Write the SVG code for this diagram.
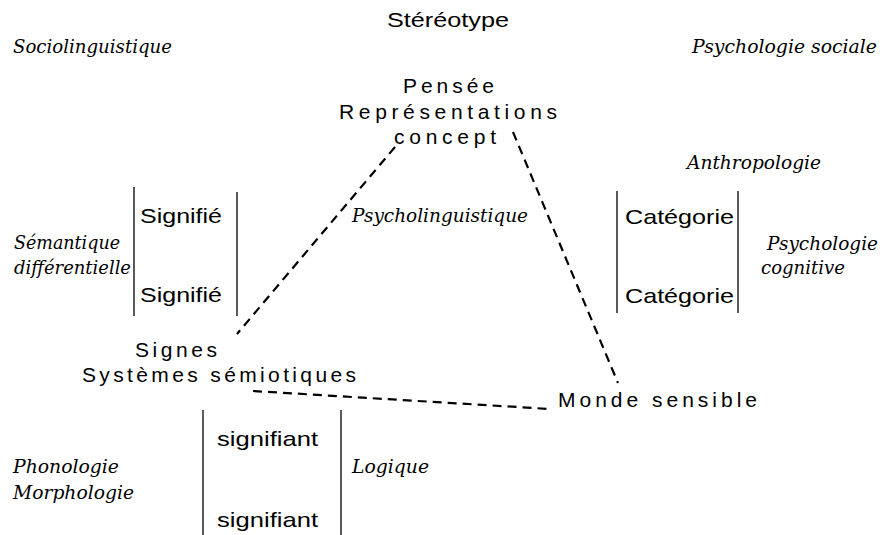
<svg xmlns="http://www.w3.org/2000/svg" width="880" height="535" viewBox="0 0 880 535">
<style>
.s{font-family:"Liberation Sans",Arial,sans-serif;font-size:21px;fill:#000}
.i{font-family:"DejaVu Serif","Liberation Serif",serif;font-style:italic;font-size:19px;fill:#000}
.b{stroke:#000;stroke-width:1.3;fill:none}
.d{stroke:#000;stroke-width:2.2;stroke-dasharray:9 6;fill:none}
</style>
<rect width="880" height="535" fill="#fff"/>
<g id="labels">
<text class="s" x="387" y="27" textLength="122" lengthAdjust="spacingAndGlyphs">Stéréotype</text>
<text class="i" x="13" y="53" textLength="159" lengthAdjust="spacingAndGlyphs">Sociolinguistique</text>
<text class="i" x="692" y="53" textLength="185" lengthAdjust="spacingAndGlyphs">Psychologie sociale</text>
<text class="i" x="687" y="169" textLength="134" lengthAdjust="spacingAndGlyphs">Anthropologie</text>
<text class="i" x="352" y="222" textLength="176" lengthAdjust="spacingAndGlyphs">Psycholinguistique</text>
<text class="i" x="14" y="249" textLength="106" lengthAdjust="spacingAndGlyphs">Sémantique</text>
<text class="i" x="14" y="274" textLength="117" lengthAdjust="spacingAndGlyphs">différentielle</text>
<text class="i" x="767" y="250" textLength="111" lengthAdjust="spacingAndGlyphs">Psychologie</text>
<text class="i" x="761" y="274" textLength="84" lengthAdjust="spacingAndGlyphs">cognitive</text>
<text class="i" x="13" y="473" textLength="106" lengthAdjust="spacingAndGlyphs">Phonologie</text>
<text class="i" x="13" y="499" textLength="121" lengthAdjust="spacingAndGlyphs">Morphologie</text>
<text class="i" x="352" y="473" textLength="77" lengthAdjust="spacingAndGlyphs">Logique</text>
</g>
<g id="connectors">
<line class="d" x1="395" y1="147" x2="237" y2="334"/>
<line class="d" x1="513" y1="132" x2="618" y2="383"/>
<line class="d" x1="253" y1="391" x2="550" y2="409"/>
</g>
<g id="pensee">
<text class="s" x="403" y="93" textLength="91" lengthAdjust="spacing">Pensée</text>
<text class="s" x="339" y="119" textLength="218" lengthAdjust="spacing">Représentations</text>
<text class="s" x="394" y="144" textLength="102" lengthAdjust="spacing">concept</text>
</g>
<g id="signes">
<text class="s" x="135" y="357" textLength="82" lengthAdjust="spacing">Signes</text>
<text class="s" x="82" y="382" textLength="274" lengthAdjust="spacing">Systèmes sémiotiques</text>
</g>
<g id="monde">
<text class="s" x="558" y="407" textLength="199" lengthAdjust="spacing">Monde sensible</text>
</g>
<g id="signifie">
<line class="b" x1="134" y1="187" x2="134" y2="316"/>
<line class="b" x1="237" y1="192" x2="237" y2="316"/>
<text class="s" x="140" y="223" textLength="82" lengthAdjust="spacingAndGlyphs">Signifié</text>
<text class="s" x="140" y="302" textLength="82" lengthAdjust="spacingAndGlyphs">Signifié</text>
</g>
<g id="categorie">
<line class="b" x1="617" y1="191" x2="617" y2="313"/>
<line class="b" x1="738" y1="191" x2="738" y2="313"/>
<text class="s" x="625" y="224" textLength="109" lengthAdjust="spacingAndGlyphs">Catégorie</text>
<text class="s" x="625" y="303" textLength="109" lengthAdjust="spacingAndGlyphs">Catégorie</text>
</g>
<g id="signifiant">
<line class="b" x1="203" y1="410" x2="203" y2="535"/>
<line class="b" x1="341" y1="410" x2="341" y2="535"/>
<text class="s" x="217" y="446" textLength="101" lengthAdjust="spacingAndGlyphs">signifiant</text>
<text class="s" x="217" y="527" textLength="101" lengthAdjust="spacingAndGlyphs">signifiant</text>
</g>
</svg>
